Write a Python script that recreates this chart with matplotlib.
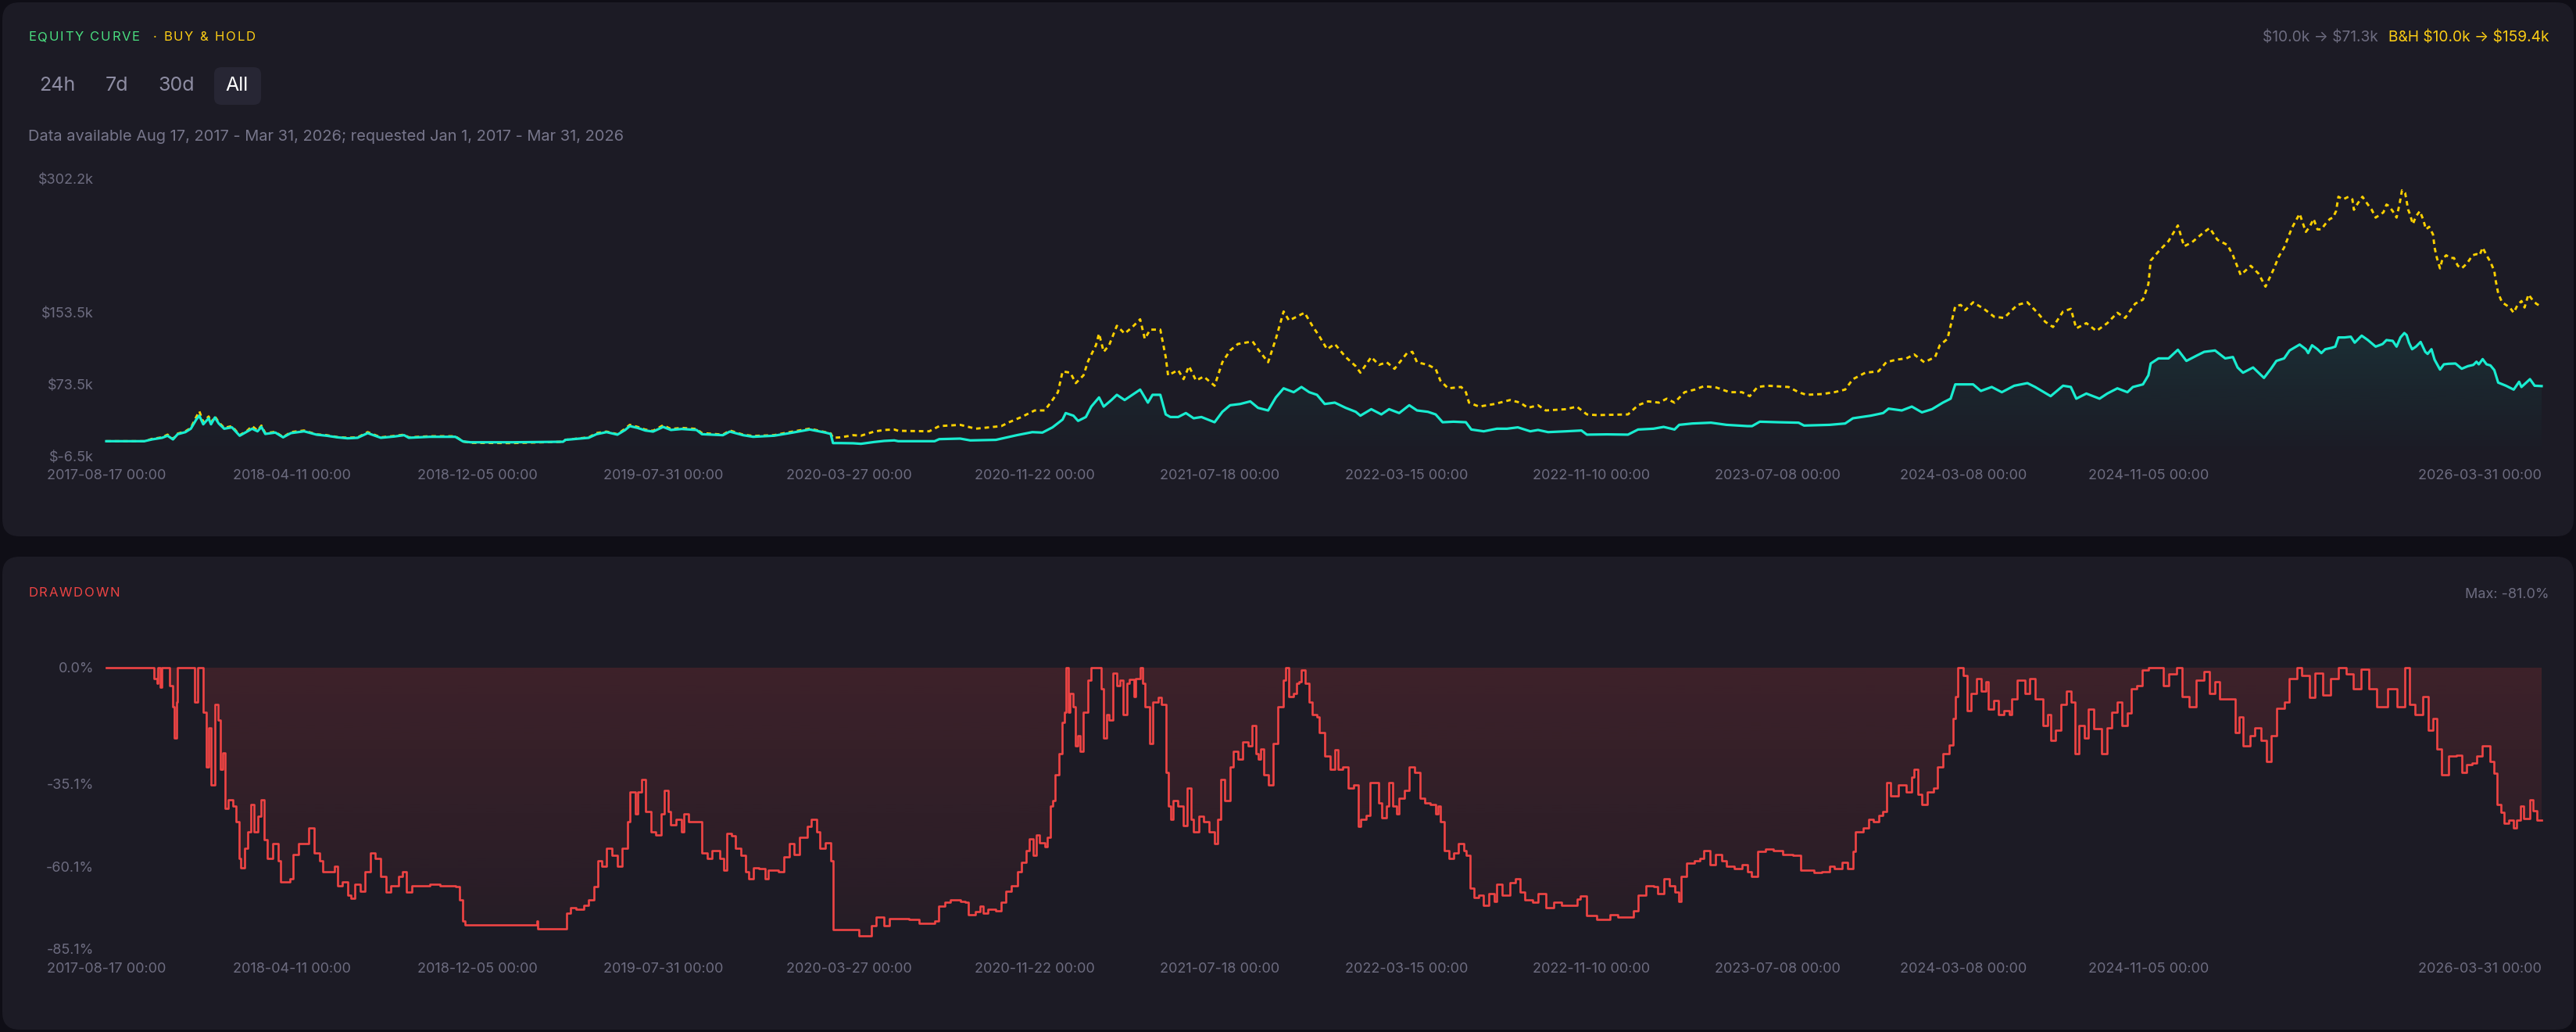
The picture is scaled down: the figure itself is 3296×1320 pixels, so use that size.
import numpy as np
import matplotlib
matplotlib.use("Agg")
import matplotlib.pyplot as plt
from matplotlib.patches import FancyBboxPatch
from matplotlib.transforms import IdentityTransform
from matplotlib.colors import to_rgb
from matplotlib import font_manager, ft2font

plt.rcParams['font.family'] = ['Inter', 'DejaVu Sans']

# ---- data (x = bar index, 0 .. 3140) ----
eq_idx = [0, 49, 59, 72, 79, 86, 92, 102, 109, 116,
          120, 125, 132, 135, 140, 145, 152, 162, 172, 182,
          188, 195, 200, 205, 218, 228, 238, 255, 271, 284,
          298, 311, 324, 337, 354, 371, 384, 390, 417, 450,
          460, 470, 523, 589, 592, 622, 632, 645, 659, 669,
          675, 685, 695, 705, 718, 728, 742, 761, 768, 795,
          804, 821, 834, 861, 881, 907, 927, 934, 937, 947,
          963, 973, 990, 1003, 1016, 1021, 1068, 1074, 1101, 1114,
          1147, 1174, 1194, 1207, 1220, 1233, 1237, 1247, 1253, 1263,
          1270, 1280, 1286, 1296, 1303, 1313, 1323, 1333, 1343, 1349,
          1359, 1366, 1372, 1382, 1392, 1402, 1412, 1429, 1439, 1449,
          1462, 1475, 1485, 1498, 1508, 1518, 1531, 1541, 1551, 1561,
          1571, 1584, 1598, 1611, 1617, 1631, 1644, 1654, 1667, 1680,
          1690, 1704, 1714, 1723, 1737, 1753, 1760, 1776, 1793, 1806,
          1820, 1836, 1846, 1859, 1882, 1902, 1909, 1935, 1962, 1975,
          1995, 2008, 2022, 2028, 2045, 2069, 2089, 2116, 2122, 2132,
          2156, 2182, 2189, 2222, 2242, 2252, 2275, 2291, 2298, 2315,
          2328, 2341, 2354, 2368, 2378, 2384, 2394, 2407, 2417, 2431,
          2444, 2460, 2477, 2487, 2507, 2523, 2533, 2540, 2553, 2570,
          2580, 2593, 2606, 2613, 2626, 2633, 2636, 2646, 2659, 2671,
          2682, 2695, 2705, 2719, 2732, 2742, 2748, 2755, 2768, 2782,
          2791, 2798, 2808, 2815, 2828, 2836, 2839, 2844, 2851, 2856,
          2861, 2869, 2874, 2878, 2886, 2894, 2899, 2908, 2916, 2926,
          2935, 2940, 2948, 2953, 2958, 2963, 2966, 2969, 2973, 2978,
          2984, 2990, 2993, 2998, 3002, 3009, 3014, 3020, 3029, 3037,
          3045, 3052, 3056, 3059, 3064, 3069, 3074, 3079, 3084, 3094,
          3104, 3111, 3114, 3125, 3131, 3140]
eq_k = [10.0, 10.0, 12.0, 13.8, 16.1, 12.0, 17.8, 20.1, 23.9, 34.1,
        38.4, 28.8, 35.5, 28.8, 36.4, 29.7, 23.9, 25.4, 16.1, 21.0,
        23.9, 21.0, 25.9, 18.1, 19.6, 14.3, 19.0, 21.0, 17.3, 16.1,
        14.3, 13.2, 13.8, 19.0, 13.8, 15.2, 16.7, 13.8, 14.9, 14.9,
        9.7, 8.8, 8.8, 9.4, 11.5, 13.8, 17.8, 20.1, 17.3, 22.5,
        26.8, 24.8, 21.9, 20.7, 25.9, 22.5, 23.6, 22.5, 17.8, 16.7,
        20.7, 16.7, 14.9, 16.1, 19.0, 23.0, 19.6, 18.1, 7.9, 7.9,
        7.7, 7.1, 9.1, 10.3, 10.9, 10.0, 10.0, 12.3, 12.9, 10.9,
        11.5, 16.7, 20.1, 19.6, 25.4, 34.1, 41.3, 38.4, 32.6, 36.9,
        48.5, 58.7, 48.5, 55.8, 61.6, 55.8, 61.6, 67.4, 52.9, 61.6,
        61.6, 39.8, 36.9, 36.9, 41.3, 35.5, 36.9, 31.1, 42.7, 50.0,
        51.4, 54.3, 47.1, 44.2, 58.7, 68.8, 64.5, 70.3, 64.5, 61.6,
        51.4, 52.9, 47.1, 42.7, 38.4, 45.6, 39.8, 45.6, 41.3, 50.0,
        44.2, 42.7, 39.8, 31.1, 31.7, 31.1, 23.0, 21.0, 23.9, 23.9,
        25.4, 21.0, 22.5, 20.1, 21.0, 21.9, 17.3, 17.6, 17.3, 23.0,
        23.9, 25.9, 23.0, 28.2, 29.7, 30.6, 28.2, 26.8, 26.8, 31.7,
        31.1, 30.6, 27.4, 28.2, 29.7, 35.5, 38.4, 41.3, 46.2, 44.2,
        48.5, 42.1, 45.6, 52.9, 57.3, 73.2, 73.2, 73.2, 65.9, 70.3,
        64.5, 71.7, 74.6, 70.3, 60.1, 71.7, 70.3, 57.3, 63.0, 57.3,
        63.0, 68.8, 64.5, 70.3, 73.2, 83.3, 96.4, 102.1, 102.1, 111.7,
        99.3, 105.1, 109.4, 110.9, 102.1, 103.6, 92.0, 86.2, 92.0, 80.4,
        90.5, 99.3, 102.1, 110.9, 117.5, 112.3, 108.0, 116.7, 112.3, 108.0,
        112.3, 113.8, 115.2, 125.4, 125.4, 126.2, 119.6, 127.4, 122.5, 115.2,
        118.1, 122.5, 121.6, 115.2, 125.4, 130.3, 128.0, 119.6, 112.3, 115.2,
        120.4, 109.4, 107.1, 112.3, 100.7, 89.7, 95.5, 96.1, 96.4, 90.6,
        93.5, 94.9, 98.4, 95.5, 101.3, 95.5, 94.3, 89.1, 75.2, 71.7,
        67.4, 76.1, 70.3, 79.0, 71.7, 71.3]

bh_idx = [0, 49, 59, 72, 79, 86, 92, 102, 109, 116,
          120, 125, 132, 135, 140, 145, 152, 162, 172, 182,
          188, 195, 200, 205, 218, 228, 238, 255, 271, 284,
          298, 311, 324, 337, 354, 371, 384, 390, 417, 450,
          460, 470, 523, 589, 592, 622, 632, 645, 659, 669,
          675, 685, 695, 705, 718, 728, 742, 761, 768, 795,
          804, 821, 834, 861, 881, 907, 927, 934, 937, 947,
          963, 973, 990, 1003, 1016, 1021, 1061, 1074, 1101, 1121,
          1154, 1164, 1180, 1197, 1210, 1220, 1227, 1233, 1243, 1250,
          1260, 1266, 1276, 1280, 1286, 1293, 1303, 1313, 1323, 1333,
          1339, 1346, 1359, 1366, 1369, 1382, 1389, 1396, 1405, 1415,
          1429, 1439, 1449, 1459, 1478, 1485, 1498, 1508, 1518, 1525,
          1535, 1545, 1555, 1564, 1574, 1584, 1598, 1611, 1617, 1631,
          1641, 1651, 1661, 1677, 1684, 1690, 1704, 1714, 1720, 1730,
          1747, 1753, 1757, 1770, 1790, 1810, 1823, 1833, 1846, 1856,
          1882, 1896, 1909, 1922, 1962, 1975, 1988, 2002, 2012, 2022,
          2035, 2048, 2060, 2076, 2093, 2109, 2119, 2129, 2142, 2169,
          2182, 2192, 2212, 2228, 2242, 2252, 2268, 2285, 2295, 2308,
          2321, 2331, 2344, 2358, 2364, 2374, 2378, 2384, 2391, 2397,
          2407, 2421, 2434, 2447, 2464, 2477, 2490, 2500, 2510, 2523,
          2533, 2540, 2553, 2566, 2580, 2593, 2603, 2616, 2626, 2633,
          2636, 2646, 2659, 2671, 2679, 2689, 2705, 2712, 2722, 2735,
          2742, 2752, 2765, 2775, 2784, 2795, 2801, 2808, 2818, 2828,
          2836, 2841, 2846, 2851, 2856, 2861, 2867, 2871, 2875, 2878,
          2884, 2891, 2896, 2898, 2903, 2909, 2916, 2921, 2926, 2931,
          2936, 2940, 2943, 2948, 2953, 2957, 2960, 2964, 2968, 2970,
          2974, 2978, 2983, 2987, 2991, 2995, 3000, 3002, 3005, 3009,
          3012, 3017, 3022, 3027, 3032, 3037, 3044, 3051, 3056, 3060,
          3064, 3069, 3074, 3079, 3081, 3084, 3089, 3094, 3099, 3104,
          3109, 3114, 3118, 3123, 3128, 3133, 3140]
bh_k = [10.0, 10.0, 12.6, 14.3, 17.3, 12.6, 18.4, 21.0, 24.8, 37.0,
        43.3, 31.2, 37.5, 30.6, 37.5, 31.2, 24.8, 26.8, 16.7, 21.9,
        26.8, 21.9, 27.4, 19.0, 20.4, 14.6, 20.1, 21.9, 17.6, 16.7,
        14.6, 13.8, 14.3, 20.1, 14.3, 15.8, 17.3, 14.3, 15.5, 15.5,
        9.7, 8.2, 7.9, 9.4, 11.5, 14.3, 19.0, 20.7, 17.8, 23.9,
        28.2, 25.9, 22.9, 21.6, 27.7, 23.6, 24.8, 23.6, 19.0, 17.3,
        21.9, 17.3, 15.8, 16.7, 20.1, 24.0, 20.1, 18.7, 13.8, 14.3,
        16.7, 16.1, 20.7, 22.5, 23.0, 21.6, 21.0, 26.8, 28.2, 23.9,
        26.8, 31.1, 36.9, 44.2, 44.2, 55.8, 64.5, 87.6, 86.2, 74.6,
        83.3, 99.3, 116.7, 129.7, 109.4, 116.7, 138.4, 129.7, 137.0, 145.6,
        123.9, 134.1, 134.1, 103.6, 83.3, 89.1, 79.0, 93.4, 77.5, 81.9,
        71.7, 97.8, 110.9, 118.1, 121.0, 112.3, 97.8, 123.9, 154.3, 144.2,
        148.5, 152.9, 138.4, 126.8, 112.3, 118.1, 103.6, 93.4, 86.2, 103.6,
        94.9, 97.8, 90.5, 107.9, 109.4, 97.8, 94.9, 90.5, 77.5, 68.8,
        70.3, 64.5, 52.9, 48.5, 51.4, 55.8, 52.9, 47.1, 50.0, 44.2,
        45.6, 48.5, 39.8, 39.0, 39.8, 50.0, 54.3, 52.9, 57.3, 52.9,
        64.5, 67.4, 71.2, 69.7, 64.5, 64.5, 60.1, 70.3, 71.7, 70.3,
        64.5, 61.6, 62.4, 64.5, 67.4, 79.0, 86.2, 87.7, 97.8, 100.7,
        102.1, 106.5, 97.8, 103.6, 116.7, 123.9, 138.4, 160.1, 161.6, 155.8,
        164.5, 157.2, 148.5, 147.1, 161.6, 164.5, 152.9, 142.8, 137.0, 154.3,
        157.2, 135.5, 141.3, 132.6, 141.3, 152.9, 147.1, 163.0, 167.4, 184.8,
        210.9, 221.0, 232.6, 250.0, 226.8, 231.1, 242.7, 247.1, 234.0, 228.2,
        216.7, 194.9, 205.1, 196.4, 181.9, 202.2, 215.2, 225.3, 247.1, 263.0,
        242.8, 248.5, 257.2, 245.6, 245.6, 251.4, 257.2, 258.7, 265.9, 281.9,
        279.0, 281.9, 279.0, 267.4, 274.6, 281.9, 273.2, 267.4, 258.7, 261.6,
        264.5, 273.2, 271.7, 265.9, 258.7, 274.6, 289.1, 286.2, 267.4, 263.0,
        251.4, 260.1, 265.9, 257.2, 245.6, 248.5, 239.9, 225.4, 213.8, 202.2,
        212.3, 216.8, 213.8, 213.8, 205.1, 202.2, 208.0, 216.8, 218.1, 216.8,
        225.4, 216.8, 209.4, 199.3, 187.7, 174.6, 164.5, 161.6, 158.7, 152.9,
        161.6, 165.9, 158.7, 173.2, 167.4, 163.0, 159.4]

dd_idx = [0, 59, 61, 65, 67, 70, 72, 79, 82, 86,
          88, 91, 92, 112, 114, 118, 122, 125, 129, 132,
          135, 140, 144, 147, 150, 153, 157, 163, 167, 171,
          173, 178, 182, 186, 190, 195, 200, 204, 208, 215,
          222, 225, 231, 237, 241, 248, 255, 261, 268, 275,
          279, 294, 298, 304, 311, 315, 320, 328, 334, 341,
          347, 354, 361, 367, 377, 382, 387, 394, 417, 430,
          450, 455, 460, 463, 553, 555, 556, 592, 594, 599,
          606, 616, 622, 629, 634, 639, 645, 652, 659, 665,
          672, 675, 682, 685, 690, 695, 702, 708, 715, 720,
          725, 728, 735, 742, 745, 751, 761, 768, 775, 781,
          791, 796, 800, 806, 811, 818, 824, 828, 834, 841,
          849, 854, 867, 874, 881, 887, 894, 904, 909, 916,
          920, 927, 934, 937, 963, 970, 980, 987, 993, 1003,
          1010, 1021, 1035, 1048, 1068, 1073, 1081, 1088, 1101, 1107,
          1111, 1121, 1127, 1131, 1137, 1147, 1154, 1160, 1167, 1175,
          1180, 1186, 1190, 1195, 1199, 1203, 1210, 1213, 1217, 1220,
          1223, 1228, 1232, 1235, 1237, 1240, 1243, 1247, 1250, 1253,
          1256, 1260, 1266, 1270, 1280, 1283, 1286, 1290, 1293, 1298,
          1303, 1307, 1311, 1316, 1319, 1325, 1327, 1333, 1336, 1339,
          1345, 1349, 1356, 1360, 1366, 1369, 1372, 1376, 1382, 1389,
          1394, 1399, 1402, 1409, 1415, 1422, 1429, 1433, 1437, 1442,
          1449, 1453, 1459, 1465, 1472, 1477, 1482, 1485, 1488, 1492,
          1498, 1505, 1511, 1518, 1521, 1525, 1531, 1535, 1538, 1541,
          1546, 1551, 1555, 1561, 1564, 1571, 1578, 1584, 1588, 1594,
          1601, 1608, 1614, 1617, 1624, 1629, 1637, 1641, 1645, 1651,
          1654, 1659, 1664, 1667, 1674, 1680, 1687, 1694, 1700, 1707,
          1714, 1717, 1720, 1725, 1731, 1737, 1743, 1750, 1753, 1758,
          1763, 1770, 1776, 1783, 1790, 1793, 1800, 1810, 1817, 1823,
          1829, 1839, 1846, 1856, 1866, 1876, 1886, 1896, 1901, 1909,
          1922, 1939, 1949, 1962, 1969, 1975, 1985, 1995, 2000, 2008,
          2015, 2022, 2027, 2031, 2038, 2048, 2055, 2060, 2068, 2075,
          2083, 2089, 2099, 2109, 2116, 2121, 2129, 2139, 2149, 2162,
          2175, 2185, 2202, 2212, 2222, 2228, 2238, 2245, 2252, 2255,
          2265, 2272, 2278, 2285, 2291, 2296, 2301, 2308, 2311, 2321,
          2328, 2331, 2336, 2341, 2348, 2356, 2361, 2368, 2376, 2381,
          2384, 2387, 2394, 2399, 2404, 2411, 2417, 2424, 2427, 2434,
          2440, 2447, 2454, 2457, 2464, 2474, 2480, 2487, 2497, 2503,
          2507, 2513, 2520, 2527, 2533, 2538, 2543, 2550, 2556, 2563,
          2573, 2580, 2586, 2593, 2599, 2606, 2611, 2618, 2625, 2633,
          2646, 2652, 2659, 2669, 2676, 2686, 2695, 2705, 2712, 2719,
          2725, 2738, 2745, 2750, 2755, 2764, 2770, 2778, 2785, 2791,
          2798, 2808, 2815, 2825, 2831, 2841, 2848, 2858, 2868, 2878,
          2888, 2897, 2907, 2917, 2927, 2941, 2954, 2964, 2970, 2977,
          2987, 2994, 3000, 3005, 3011, 3020, 3030, 3037, 3043, 3050,
          3056, 3063, 3073, 3079, 3083, 3088, 3092, 3098, 3104, 3108,
          3113, 3117, 3125, 3129, 3134, 3140]
dd_pct = [0, 0, -3.2, -4.7, 0, -5.9, 0, 0, -5.5, -11.8,
          -21.3, -10.3, 0, 0, -10.3, 0, 0, -13.4, -30.0, -18.2,
          -35.5, -11.0, -15.8, -30.8, -25.7, -42.6, -39.9, -41.8, -46.6, -57.6,
          -60.4, -54.5, -49.7, -41.4, -49.7, -45.0, -39.9, -52.1, -57.6, -53.3,
          -58.4, -64.7, -64.7, -63.9, -56.4, -53.3, -53.3, -48.5, -56.0, -58.4,
          -61.6, -60.0, -65.9, -64.7, -68.7, -69.8, -65.5, -67.5, -61.6, -56.0,
          -57.6, -63.1, -67.9, -65.9, -63.1, -61.6, -67.9, -65.9, -65.5, -65.9,
          -66.3, -70.2, -76.6, -77.7, -77.7, -76.6, -78.9, -78.9, -74.2, -72.6,
          -73.0, -71.8, -70.2, -66.3, -58.4, -60.0, -54.5, -56.8, -60.0, -54.5,
          -46.6, -37.5, -44.2, -37.5, -33.9, -43.4, -49.7, -50.5, -44.2, -37.1,
          -43.4, -47.4, -45.8, -49.7, -44.2, -46.6, -46.6, -56.0, -57.6, -55.2,
          -57.6, -61.2, -50.1, -50.9, -54.5, -56.8, -61.6, -63.9, -60.4, -60.8,
          -63.9, -61.2, -61.6, -57.2, -53.3, -56.4, -51.3, -48.1, -45.8, -49.7,
          -54.5, -52.9, -58.4, -79.3, -79.3, -81.0, -81.0, -78.1, -75.4, -78.1,
          -75.8, -75.8, -76.2, -77.3, -76.6, -72.2, -71.0, -70.2, -70.6, -71.0,
          -74.6, -73.8, -72.2, -74.2, -73.0, -73.4, -71.0, -67.5, -65.9, -61.6,
          -58.8, -55.2, -51.7, -56.8, -50.5, -52.9, -54.1, -51.3, -41.8, -40.3,
          -32.4, -26.0, -16.6, -13.4, 0, -13.4, -7.9, -11.8, -23.7, -20.5,
          -25.3, -13.4, -3.9, 0, 0, -6.3, -21.3, -14.2, -15.8, -1.6,
          -5.5, -3.9, -14.2, -4.7, -3.6, -8.7, -3.2, 0, -4.7, -11.8,
          -22.9, -10.3, -9.1, -11.0, -31.6, -41.8, -45.8, -40.3, -41.8, -47.8,
          -36.3, -45.8, -49.7, -45.0, -46.6, -49.7, -53.3, -45.8, -33.9, -40.3,
          -30.0, -25.3, -27.6, -22.5, -23.7, -17.4, -26.0, -27.6, -24.5, -32.4,
          -35.5, -22.9, -11.8, -3.9, 0, -8.7, -7.9, -4.7, -4.3, -0.8,
          -4.7, -10.3, -14.2, -15.0, -19.7, -26.8, -30.8, -24.9, -30.8, -30.0,
          -36.3, -35.5, -48.1, -45.8, -44.6, -34.7, -34.7, -41.0, -45.4, -41.8,
          -34.7, -41.8, -44.2, -39.5, -37.1, -30.0, -31.6, -39.5, -41.0, -41.4,
          -44.2, -41.8, -46.6, -55.2, -57.6, -56.0, -53.3, -55.2, -56.8, -66.7,
          -69.5, -68.7, -71.8, -68.3, -70.6, -65.5, -68.7, -65.1, -63.9, -67.9,
          -70.2, -71.0, -68.3, -72.6, -71.0, -71.8, -71.8, -69.9, -69.1, -75.0,
          -76.2, -74.6, -75.4, -75.4, -73.4, -68.7, -65.9, -66.3, -68.3, -63.9,
          -65.9, -67.9, -70.6, -63.1, -59.2, -58.4, -57.6, -55.2, -59.6, -56.4,
          -58.4, -60.0, -60.8, -59.6, -61.6, -63.1, -55.6, -54.9, -55.2, -56.4,
          -56.8, -61.2, -62.0, -61.6, -60.0, -60.8, -58.8, -60.8, -55.6, -49.7,
          -48.5, -45.8, -46.6, -44.6, -43.4, -34.7, -38.7, -38.7, -35.5, -37.5,
          -33.1, -30.8, -38.3, -41.4, -37.5, -36.3, -30.0, -26.0, -23.3, -15.4,
          -8.7, 0, -2.4, -13.0, -7.9, -3.2, -7.1, -4.3, -12.6, -9.9,
          -14.2, -13.0, -14.2, -9.5, -3.9, -7.9, -3.2, -9.5, -17.4, -14.2,
          -22.1, -18.9, -11.0, -7.1, -10.3, -26.0, -17.4, -21.3, -12.6, -18.5,
          -26.0, -18.2, -13.4, -10.3, -17.4, -13.8, -6.3, -5.5, -0.8, 0,
          0, -5.5, -2.0, 0, -8.7, -11.8, -3.9, -1.2, -7.9, -4.3,
          -9.5, -9.5, -19.7, -15.0, -23.7, -20.5, -18.2, -22.1, -28.4, -20.5,
          -12.2, -10.3, -3.2, 0, -2.4, -9.1, -1.6, -8.3, -3.2, 0,
          -2.0, -6.3, -0.4, -6.3, -11.8, -6.3, -11.8, 0, -11.0, -14.2,
          -8.7, -18.9, -15.4, -24.5, -32.4, -26.8, -26.4, -31.6, -29.2, -28.8,
          -26.8, -23.7, -28.4, -32.0, -41.4, -43.7, -47.0, -46.1, -48.4, -46.1,
          -41.9, -45.6, -40.0, -43.3, -46.1, -46.1]

tick_idx = [0, 239, 479, 718, 958, 1197, 1436, 1676, 1915, 2155, 2394, 2633, 3140]
tick_labels = ["2017-08-17 00:00", "2018-04-11 00:00", "2018-12-05 00:00",
               "2019-07-31 00:00", "2020-03-27 00:00", "2020-11-22 00:00",
               "2021-07-18 00:00", "2022-03-15 00:00", "2022-11-10 00:00",
               "2023-07-08 00:00", "2024-03-08 00:00", "2024-11-05 00:00",
               "2026-03-31 00:00"]
eq_ticks = [-6.5, 73.5, 153.5, 302.2]
eq_tick_labels = ["$-6.5k", "$73.5k", "$153.5k", "$302.2k"]
dd_ticks = [0, -35.1, -60.1, -85.1]
dd_tick_labels = ["0.0%", "-35.1%", "-60.1%", "-85.1%"]

# ---- style ----
BG = '#0f0e16'
PANEL = '#1c1b25'
CYAN = '#19ecd0'
YELLOW = '#fcd000'
RED = '#ef4444'
GRAY = '#6d6c80'
W, H = 3296, 1320

fig = plt.figure(figsize=(W / 100, H / 100), dpi=100)
fig.patch.set_facecolor(BG)


def rbox(x0, y0, x1, y1, color, r):
    # pixel box, y measured from the top
    p = FancyBboxPatch((x0, H - y1), x1 - x0, y1 - y0,
                       boxstyle='round,pad=0,rounding_size=%d' % r,
                       transform=IdentityTransform(), facecolor=color,
                       edgecolor='none', zorder=-5)
    fig.add_artist(p)


def ftext(x, y, s, **kw):
    kw.setdefault('va', 'center')
    fig.text(x / W, 1 - y / H, s, **kw)


_inter = ft2font.FT2Font(font_manager.findfont(font_manager.FontProperties(family='Inter')))


def tracked(x, y, s, size, spacing, color):
    # letter-spaced label, one glyph at a time
    _inter.set_size(size, 100)
    cur = x
    for ch in s:
        if ch != ' ':
            ftext(cur, y, ch, color=color, fontsize=size, ha='left')
        cur += _inter.load_char(ord(ch)).linearHoriAdvance / 65536 + spacing
    return cur


rbox(3, 3, 3293, 686, PANEL, 22)
rbox(3, 712, 3293, 1317, PANEL, 22)
rbox(274, 86, 334, 134, '#272634', 9)

# header texts
tracked(36, 48, "EQUITY CURVE", 12, 1.8, '#4ade80')
tracked(196, 48, "· BUY & HOLD", 12, 1.8, '#facc15')
ftext(3261, 48, "B&H \\$10.0k → \\$159.4k", color='#facc15', fontsize=13.8, ha='right')
ftext(3043, 48, "\\$10.0k → \\$71.3k", color=GRAY, fontsize=13.8, ha='right')
for lab, cx, col in [("24h", 73, '#8e8da3'), ("7d", 149, '#8e8da3'),
                     ("30d", 226, '#8e8da3'), ("All", 303, '#ffffff')]:
    ftext(cx, 110, lab, color=col, fontsize=18, ha='center')
ftext(36, 175, "Data available Aug 17, 2017 - Mar 31, 2026; requested Jan 1, 2017 - Mar 31, 2026",
      color='#77768b', fontsize=14.4, ha='left')
tracked(36, 759, "DRAWDOWN", 12, 1.8, RED)
ftext(3261, 760, "Max: -81.0%", color=GRAY, fontsize=13, ha='right')


def gradient_fill(ax, poly, color, x0, x1, y0, y1, a0, a1):
    grad = np.zeros((256, 1, 4))
    grad[:, 0, :3] = to_rgb(color)
    grad[:, 0, 3] = np.linspace(a0, a1, 256)
    im = ax.imshow(grad, extent=[x0, x1, y0, y1], origin='lower',
                   aspect='auto', zorder=1, interpolation='bilinear')
    im.set_clip_path(poly.get_paths()[0], transform=ax.transData)


def style_axis(ax, yt, ylab):
    ax.set_facecolor('none')
    for s in ax.spines.values():
        s.set_visible(False)
    ax.set_xticks(tick_idx)
    ax.set_xticklabels(tick_labels)
    ax.set_yticks(yt)
    ax.set_yticklabels(ylab)
    ax.tick_params(length=0, labelsize=13, labelcolor=GRAY)
    ax.tick_params(axis='x', pad=12)
    ax.tick_params(axis='y', pad=11.5)
    ax.xaxis.get_major_ticks()[-1].label1.set_horizontalalignment('right')


# ---- equity panel ----
ax1 = fig.add_axes([136 / W, 1 - 583.3 / H, (3252 - 136) / W, (583.3 - 228.3) / H])
poly = ax1.fill_between(eq_idx, eq_k, -6.5, facecolor='none', edgecolor='none')
gradient_fill(ax1, poly, CYAN, 0, 3140, -6.5, max(eq_k), 0.0, 0.095)
ax1.plot(bh_idx, bh_k, color=YELLOW, lw=2.1, dashes=(2.0, 1.7), zorder=3, clip_on=False)
ax1.plot(eq_idx, eq_k, color=CYAN, lw=2.3, zorder=4, clip_on=False)
ax1.set_xlim(0, 3140)
ax1.set_ylim(-6.5, 302.2)
style_axis(ax1, eq_ticks, eq_tick_labels)

# ---- drawdown panel ----
ax2 = fig.add_axes([136 / W, 1 - 1214 / H, (3252 - 136) / W, (1214 - 854) / H])
poly = ax2.fill_between(dd_idx, dd_pct, 0, step='post', facecolor='none', edgecolor='none')
gradient_fill(ax2, poly, RED, 0, 3140, -85.1, 0, 0.04, 0.16)
ax2.plot(dd_idx, dd_pct, color=RED, lw=1.9, drawstyle='steps-post', zorder=3, clip_on=False)
ax2.set_xlim(0, 3140)
ax2.set_ylim(-85.1, 0)
style_axis(ax2, dd_ticks, dd_tick_labels)

fig.savefig('out.png', dpi=100, facecolor=BG)
